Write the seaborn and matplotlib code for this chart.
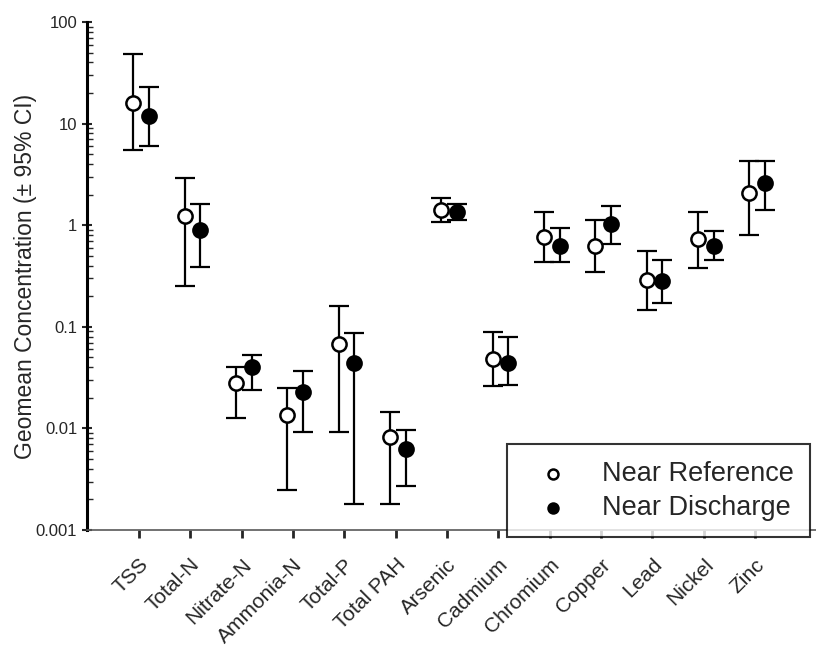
import numpy as np
import pandas as pd
import matplotlib
matplotlib.use("Agg")
import matplotlib.pyplot as plt
import seaborn as sns

# values (log scale)
analytes = ['TSS', 'Total-N', 'Nitrate-N', 'Ammonia-N', 'Total-P', 'Total PAH', 'Arsenic',
            'Cadmium', 'Chromium', 'Copper', 'Lead', 'Nickel', 'Zinc']
ref_mean = [16.0, 1.23, 0.028, 0.0135, 0.068, 0.0082, 1.41, 0.048, 0.77, 0.63, 0.29, 0.73, 2.07]
ref_lo = [5.5, 0.25, 0.0128, 0.0025, 0.0092, 0.0018, 1.07, 0.026, 0.43, 0.35, 0.145, 0.38, 0.80]
ref_hi = [48.0, 2.9, 0.040, 0.025, 0.16, 0.0145, 1.85, 0.088, 1.35, 1.12, 0.56, 1.35, 4.3]
dis_mean = [12.0, 0.90, 0.040, 0.023, 0.044, 0.0063, 1.35, 0.044, 0.62, 1.03, 0.28, 0.63, 2.6]
dis_lo = [6.0, 0.39, 0.024, 0.0092, 0.0018, 0.0027, 1.12, 0.027, 0.43, 0.66, 0.17, 0.45, 1.41]
dis_hi = [23.0, 1.62, 0.053, 0.037, 0.087, 0.0097, 1.62, 0.080, 0.93, 1.55, 0.45, 0.88, 4.3]

sns.set_style("ticks")
plt.rcParams['font.family'] = ['Liberation Sans', 'DejaVu Sans']

pos = np.arange(len(analytes))
df = pd.DataFrame({
    'x': np.concatenate([pos - 0.11, pos + 0.2]),
    'value': ref_mean + dis_mean,
    'lo': ref_lo + dis_lo,
    'hi': ref_hi + dis_hi,
    'site': ['Near Reference'] * len(analytes) + ['Near Discharge'] * len(analytes),
})

fig = plt.figure(figsize=(8.16, 6.54), dpi=100)
ax = fig.add_axes([87 / 816, 1 - 530 / 654, 1 - 87 / 816, (530 - 22) / 654])

# error bars first, markers on top
for site in ['Near Reference', 'Near Discharge']:
    d = df[df['site'] == site]
    err = [d['value'] - d['lo'], d['hi'] - d['value']]
    ax.errorbar(d['x'], d['value'], yerr=err, fmt='none', ecolor='black',
                elinewidth=1.6, capsize=7, capthick=1.6, zorder=2)

sns.scatterplot(data=df[df['site'] == 'Near Reference'], x='x', y='value', ax=ax,
                marker='o', s=105, facecolor='white', edgecolor='black', linewidth=1.8,
                label='Near Reference', zorder=3)
sns.scatterplot(data=df[df['site'] == 'Near Discharge'], x='x', y='value', ax=ax,
                marker='o', s=105, color='black', edgecolor='black', linewidth=1.8,
                label='Near Discharge', zorder=3)

ax.set_yscale('log')
ax.set_ylim(0.001, 100)
ax.set_xlim(-1.01, 13.19)
ax.set_yticks([0.001, 0.01, 0.1, 1, 10, 100])
ax.set_yticklabels(['0.001', '0.01', '0.1', '1', '10', '100'], fontsize=12)
ax.set_xticks(pos)
ax.set_xticklabels(analytes, rotation=45, ha='right', rotation_mode='anchor', fontsize=15)
ax.set_xlabel('')
ax.set_ylabel('Geomean Concentration (± 95% CI)', fontsize=16.5, labelpad=-1)

ax.tick_params(axis='y', which='major', direction='inout', length=7, width=1.5)
ax.tick_params(axis='y', which='minor', direction='in', length=4, width=1)
ax.tick_params(axis='x', direction='out', length=6, width=2, pad=12)

sns.despine(ax=ax)
ax.spines['left'].set_linewidth(2.2)
ax.spines['left'].set_color('black')
ax.spines['bottom'].set_linewidth(1.2)
ax.spines['bottom'].set_color('0.35')
ax.spines['bottom'].set_linestyle((0, (2, 1)))

leg = ax.legend(loc='lower left', bbox_to_anchor=(507 / 816, (654 - 537) / 654),
                bbox_transform=fig.transFigure, fontsize=19.5, frameon=True,
                fancybox=False, edgecolor='black', markerscale=0.7,
                handlelength=2.2, handletextpad=0.7, labelspacing=0.3,
                borderpad=0.6, borderaxespad=0)
leg.get_frame().set_linewidth(1.5)
leg.set_zorder(5)

fig.savefig('out.png', dpi=100)
